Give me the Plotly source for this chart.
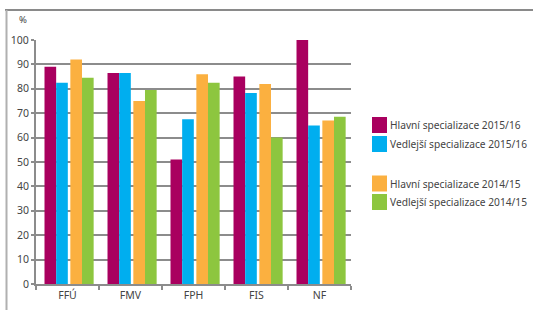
import plotly.graph_objects as go

categories = ["FFÚ", "FMV", "FPH", "FIS", "NF"]
series_names = [
    "Hlavní specializace 2015/16",
    "Vedlejší specializace 2015/16",
    "Hlavní specializace 2014/15",
    "Vedlejší specializace 2014/15",
]
hlavni_1516 = [89, 86.5, 51, 85, 100]
vedlejsi_1516 = [82.5, 86.5, 67.5, 78.3, 65]
hlavni_1415 = [92, 75, 86, 82, 67]
vedlejsi_1415 = [84.5, 79.5, 82.5, 60, 68.5]
y_ticks = [0, 10, 20, 30, 40, 50, 60, 70, 80, 90, 100]

series_values = [hlavni_1516, vedlejsi_1516, hlavni_1415, vedlejsi_1415]
colors = ["#A9005F", "#00AEEF", "#FBB040", "#8DC63F"]
offsets = [-0.365, -0.18, 0.045, 0.23]

FONT = "Noto Sans"
TXT = "#444444"
GRID = "#8c8c8c"

fig = go.Figure()
for name, vals, col, off in zip(series_names, series_values, colors, offsets):
    fig.add_trace(go.Bar(x=categories, y=vals, name=name, marker_color=col,
                         marker_line_width=0, width=0.185, offset=off,
                         showlegend=False, hoverinfo="skip"))

L, R, T, B = 36, 182, 40, 26
W, H = 533, 310
pw, ph = W - L - R, H - T - B
def px(x):
    return (x - L) / pw
def py(y):
    return (H - B - y) / ph

# legend drawn as shapes + text (layout positions in pixels)
legend_rows = [125, 144, 183.5, 202]
shapes = [
    dict(type="line", xref="paper", yref="paper", x0=px(5), x1=px(533),
         y0=py(10), y1=py(10), line=dict(color="#8a8a8a", width=2)),
    dict(type="line", xref="paper", yref="paper", x0=px(6.5), x1=px(6.5),
         y0=py(10), y1=py(310), line=dict(color="#b0b0b0", width=2)),
]
annotations = [
    dict(text="%", xref="paper", yref="paper", x=px(23), y=py(20),
         xanchor="center", yanchor="middle",
         showarrow=False, font=dict(size=9.5, color=TXT)),
]
for name, col, yc in zip(series_names, colors, legend_rows):
    shapes.append(dict(type="rect", xref="paper", yref="paper",
                       x0=px(372), x1=px(387), y0=py(yc - 8), y1=py(yc + 8),
                       fillcolor=col, line=dict(width=0)))
    annotations.append(dict(text=name, xref="paper", yref="paper",
                            x=px(388), y=py(yc), xanchor="left", yanchor="middle",
                            showarrow=False, font=dict(size=10.2, color=TXT)))

fig.update_layout(
    width=W, height=H,
    margin=dict(l=L, r=R, t=T, b=B, autoexpand=False),
    paper_bgcolor="white", plot_bgcolor="white",
    font=dict(family=FONT, size=10.5, color=TXT),
    barmode="overlay",
    showlegend=False,
    hovermode=False,
    xaxis=dict(type="category", showline=True, linecolor=GRID, linewidth=2,
               ticks="outside", tickson="boundaries", ticklen=4, tickwidth=2,
               tickcolor=GRID, showgrid=False, automargin=False,
               tickfont=dict(size=10.5, color=TXT)),
    yaxis=dict(range=[0, 100], tickvals=y_ticks, showline=True, linecolor=GRID,
               linewidth=2, ticks="outside", ticklen=3, tickwidth=2, tickcolor=GRID,
               showgrid=True, gridcolor=GRID, gridwidth=2, zeroline=False,
               automargin=False, tickfont=dict(size=10.5, color=TXT)),
    shapes=shapes,
    annotations=annotations,
)

fig.write_html("out.html", config={"displayModeBar": False},
               post_script="document.body.style.margin='0';")
